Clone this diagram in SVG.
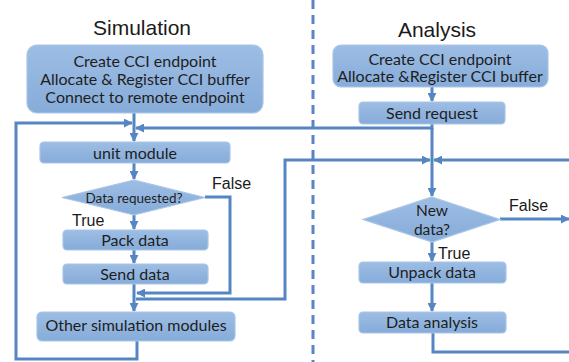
<svg xmlns="http://www.w3.org/2000/svg" width="569" height="362" viewBox="0 0 569 362">
<defs>
<marker id="ah" viewBox="0 0 10 10" refX="9" refY="5" markerWidth="3" markerHeight="3" orient="auto" markerUnits="strokeWidth">
<path d="M0,0 L10,5 L0,10 z" fill="#5585c2"/>
</marker>
<linearGradient id="g" x1="0" y1="0" x2="0" y2="1">
<stop offset="0" stop-color="#9dbde4"/>
<stop offset="1" stop-color="#86acd9"/>
</linearGradient>
</defs>
<style>
.box{fill:url(#g);stroke:#a9c5e8;stroke-width:1.2}
.t{font-family:Lato,"Open Sans",sans-serif;font-size:16px;fill:#1e1e1e;text-anchor:middle}
.h{font-family:"Liberation Sans",Arial,sans-serif;font-size:21px;fill:#1a1a1a;text-anchor:middle}
.l{font-family:"Liberation Sans",Arial,sans-serif;font-size:16px;fill:#1a1a1a}
.c{fill:none;stroke:#5585c2;stroke-width:3}
.a{marker-end:url(#ah)}
</style>
<rect width="569" height="362" fill="#ffffff"/>
<line x1="313" y1="0" x2="313" y2="362" stroke="#5b84c4" stroke-width="3" stroke-dasharray="9,6"/>
<text class="h" x="142" y="35">Simulation</text>
<text class="h" x="437" y="37">Analysis</text>
<g id="connectors">
<path class="c a" d="M134,113 V141"/>
<path class="c a" d="M137,341 V359 H16 V123 H132"/>
<path class="c a" d="M432,124 V128 H136"/>
<path class="c a" d="M134,163 V179"/>
<path class="c a" d="M134,215 V229"/>
<path class="c a" d="M134,250 V263"/>
<path class="c a" d="M134,284 V311"/>
<path class="c a" d="M205,197 H230 V293 H137"/>
<path class="c a" d="M136,299 H285 V160 H430"/>
<path class="c a" d="M569,160 H434"/>
<path class="c a" d="M432,87 V101"/>
<path class="c a" d="M432,128 V196"/>
<path class="c a" d="M500,219 H569"/>
<path class="c a" d="M432,242 V261"/>
<path class="c a" d="M432,283 V311"/>
<path class="c" d="M433,333 V352 H569"/>
</g>
<g id="sim-init">
<rect class="box" x="27" y="45" width="236" height="68" rx="10"/>
<text class="t" x="145" y="67">Create CCI endpoint</text>
<text class="t" x="145" y="85">Allocate &amp; Register CCI buffer</text>
<text class="t" x="145" y="103">Connect to remote endpoint</text>
</g>
<g id="unit-module">
<rect class="box" x="40" y="142" width="190" height="21" rx="4"/>
<text class="t" x="135" y="159">unit module</text>
</g>
<g id="data-requested">
<polygon class="box" points="134,180 205,197.5 134,215 62,197.5"/>
<text class="t" x="134" y="203" style="font-size:13.5px">Data requested?</text>
</g>
<text class="l" x="212" y="189">False</text>
<text class="l" x="72" y="226">True</text>
<g id="pack-data">
<rect class="box" x="63" y="230" width="145" height="20" rx="4"/>
<text class="t" x="135" y="246">Pack data</text>
</g>
<g id="send-data">
<rect class="box" x="63" y="264" width="145" height="20" rx="4"/>
<text class="t" x="135" y="280">Send data</text>
</g>
<g id="other-modules">
<rect class="box" x="37" y="312" width="198" height="29" rx="5"/>
<text class="t" x="136" y="331">Other simulation modules</text>
</g>
<g id="ana-init">
<rect class="box" x="333" y="45" width="215" height="42" rx="8"/>
<text class="t" x="440" y="64.5">Create CCI endpoint</text>
<text class="t" x="440" y="82">Allocate &amp;Register CCI buffer</text>
</g>
<g id="send-request">
<rect class="box" x="359" y="102" width="146" height="22" rx="4"/>
<text class="t" x="432" y="119">Send request</text>
</g>
<g id="new-data">
<polygon class="box" points="432,197 500,219.5 432,242 363,219.5"/>
<text class="t" x="432" y="216" style="font-size:15.5px">New</text>
<text class="t" x="432" y="235" style="font-size:15.5px">data?</text>
</g>
<text class="l" x="509" y="211">False</text>
<text class="l" x="438" y="259">True</text>
<g id="unpack-data">
<rect class="box" x="359" y="262" width="147" height="21" rx="4"/>
<text class="t" x="432" y="278">Unpack data</text>
</g>
<g id="data-analysis">
<rect class="box" x="359" y="312" width="147" height="21" rx="4"/>
<text class="t" x="432" y="328">Data analysis</text>
</g>
</svg>
